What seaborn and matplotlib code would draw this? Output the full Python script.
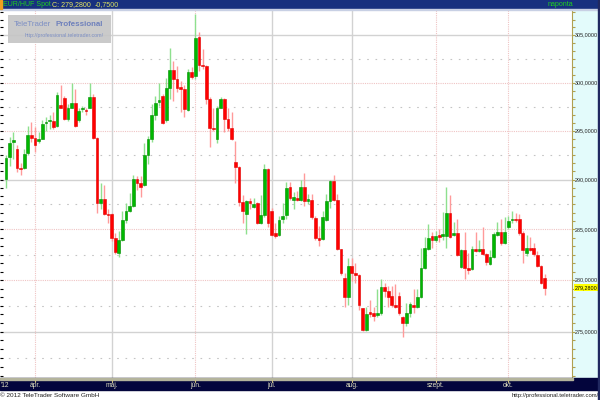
import numpy as np
import pandas as pd
import matplotlib
matplotlib.use('Agg')
import matplotlib.pyplot as plt
import seaborn as sns
from matplotlib.patches import Rectangle
from matplotlib.ticker import FixedLocator, NullFormatter
import matplotlib.transforms as mtransforms

# EUR/HUF daily candles, 2012-03-21 .. 2012-10-15
opens = [
    290.05, 292.3, 293.8, 293.1, 291.2, 291.2, 292.7, 294.6, 294.3, 293.9,
    294.2, 295.8, 296.0, 296.0, 295.5, 297.7, 298.4, 296.2, 297.4, 297.9,
    296.1, 297.2, 297.1, 297.4, 298.5, 294.3, 287.6, 288.1, 286.5, 286.5,
    284.2, 282.7, 284.0, 285.9, 286.8, 287.3, 290.1, 289.7, 289.5, 292.5,
    294.1, 296.6, 298.0, 298.6, 296.1, 299.4, 301.3, 300.4, 299.5, 299.3,
    297.1, 301.1, 300.7, 304.8, 301.9, 301.7, 298.3, 295.3, 294.2, 297.4,
    298.3, 296.2, 295.3, 291.8, 291.3, 287.7, 286.5, 287.8, 287.2, 287.6,
    285.6, 286.4, 291.1, 286.8, 284.7, 284.5, 286.0, 286.4, 289.3, 288.0,
    288.2, 288.0, 289.3, 287.9, 288.0, 286.1, 284.2, 284.1, 285.9, 287.8,
    289.9, 288.0, 283.1, 280.2, 278.4, 281.4, 280.7, 280.5, 277.3, 275.2,
    276.9, 276.8, 276.6, 276.8, 279.3, 278.9, 278.5, 277.6, 278.5, 276.4,
    275.8, 276.8, 277.6, 277.4, 278.4, 281.2, 283.1, 284.4, 284.0, 284.4,
    284.4, 284.4, 286.6, 284.5, 284.7, 281.3, 283.0, 281.2, 281.1, 283.1,
    282.9, 283.1, 282.6, 281.6, 282.3, 284.5, 284.8, 283.7, 285.2, 285.9,
    286.0, 286.0, 284.7, 282.7, 283.2, 283.2, 282.5, 281.4, 280.2,
]
highs = [
    292.5, 294.35, 294.9, 293.5, 291.7, 293.1, 295.5, 295.9, 295.4, 294.9,
    296.1, 296.4, 296.6, 296.9, 299.0, 299.7, 298.6, 297.8, 300.0, 299.3,
    297.3, 297.6, 297.4, 300.0, 298.8, 294.4, 289.7, 289.5, 287.0, 286.6,
    284.7, 284.9, 286.8, 287.6, 288.7, 290.5, 290.4, 290.4, 293.7, 294.5,
    297.8, 298.6, 300.0, 298.8, 300.5, 303.6, 302.3, 301.7, 300.2, 299.7,
    301.4, 301.6, 307.3, 305.3, 303.5, 301.8, 298.5, 297.3, 297.6, 298.5,
    298.4, 297.3, 296.9, 293.9, 291.4, 288.5, 288.0, 288.2, 288.2, 287.7,
    288.5, 291.6, 291.2, 287.1, 285.6, 286.3, 287.6, 289.8, 289.8, 288.8,
    288.9, 290.0, 290.7, 288.6, 288.6, 286.3, 285.3, 286.8, 288.6, 290.0,
    290.5, 288.6, 283.1, 280.7, 282.2, 282.2, 281.7, 280.6, 277.3, 277.4,
    278.1, 277.4, 279.1, 280.1, 279.7, 279.4, 279.4, 279.6, 278.8, 276.5,
    277.8, 277.9, 279.1, 279.1, 283.2, 284.3, 285.5, 284.8, 284.9, 285.0,
    286.7, 289.3, 288.5, 285.7, 286.0, 283.1, 284.8, 282.7, 283.4, 284.8,
    284.0, 285.2, 282.7, 283.0, 284.8, 285.7, 286.0, 286.2, 286.3, 286.8,
    286.6, 286.5, 284.9, 284.5, 284.3, 283.7, 282.9, 281.5, 280.6,
]
lows = [
    289.2, 291.4, 292.1, 290.8, 290.5, 291.1, 292.5, 293.8, 292.8, 293.7,
    294.1, 295.0, 295.2, 295.2, 295.4, 297.3, 296.1, 296.0, 297.3, 295.4,
    295.9, 296.9, 296.6, 297.3, 294.2, 286.6, 287.0, 286.4, 285.6, 283.9,
    282.6, 282.3, 283.9, 285.6, 286.7, 287.2, 289.0, 288.3, 289.4, 291.6,
    293.8, 296.1, 297.6, 295.7, 295.9, 298.3, 298.1, 299.0, 296.9, 296.4,
    297.0, 300.4, 300.4, 301.2, 301.4, 297.8, 293.3, 295.0, 293.7, 297.3,
    294.9, 295.0, 294.0, 289.7, 287.3, 285.6, 284.6, 287.0, 287.1, 285.5,
    285.5, 286.2, 285.2, 284.4, 284.2, 284.4, 285.6, 286.0, 288.0, 287.0,
    287.8, 287.8, 287.3, 287.5, 286.0, 284.0, 283.4, 284.0, 285.8, 287.1,
    287.8, 283.0, 280.5, 277.4, 277.6, 279.9, 279.7, 277.1, 275.1, 275.1,
    276.4, 276.0, 276.4, 276.6, 278.4, 277.4, 277.4, 277.3, 276.6, 274.5,
    275.6, 276.4, 276.8, 277.3, 278.3, 281.1, 283.0, 283.2, 283.8, 283.8,
    284.0, 283.2, 284.2, 284.4, 282.4, 281.2, 280.1, 280.6, 281.0, 282.8,
    282.8, 282.5, 281.5, 281.5, 282.2, 284.4, 283.5, 283.6, 285.0, 285.6,
    285.7, 284.5, 281.7, 282.4, 282.9, 282.4, 281.3, 279.6, 278.6,
]
closes = [
    292.2, 293.7, 294.0, 291.2, 291.1, 292.6, 294.6, 294.3, 293.5, 294.2,
    295.7, 295.95, 296.15, 295.4, 298.7, 297.4, 296.2, 297.3, 297.9, 295.5,
    297.0, 297.3, 297.0, 298.5, 294.3, 287.6, 288.1, 286.5, 286.45, 284.2,
    282.8, 284.0, 285.9, 286.8, 287.3, 290.1, 289.7, 289.3, 292.5, 294.1,
    296.6, 297.9, 298.2, 295.8, 299.4, 301.3, 300.4, 299.4, 299.3, 297.2,
    301.1, 300.6, 304.7, 301.9, 301.7, 298.3, 295.3, 295.2, 297.4, 298.3,
    296.2, 295.3, 294.1, 291.3, 287.7, 286.8, 287.8, 287.6, 287.5, 285.6,
    286.4, 291.1, 285.6, 284.5, 284.4, 285.9, 286.3, 289.2, 288.2, 288.3,
    288.0, 289.3, 287.8, 288.0, 286.2, 284.2, 284.0, 286.2, 287.8, 289.9,
    288.0, 283.1, 280.7, 278.4, 281.4, 280.7, 280.5, 277.6, 275.2, 276.7,
    276.7, 276.5, 276.8, 279.3, 278.9, 278.4, 277.6, 277.4, 276.8, 275.8,
    276.8, 277.7, 277.4, 278.4, 281.2, 283.2, 284.2, 284.0, 284.4, 284.3,
    284.5, 286.6, 284.3, 284.6, 282.5, 283.0, 281.2, 281.0, 283.1, 282.9,
    283.1, 282.6, 281.8, 282.3, 284.6, 284.8, 283.7, 284.8, 285.8, 286.0,
    285.9, 284.7, 283.0, 283.2, 283.0, 282.6, 281.4, 279.7, 279.28,
]

month_labels = {4: 'ápr.', 5: 'máj.', 6: 'jún.', 7: 'júl.', 8: 'aug.', 9: 'szept.', 10: 'okt.'}
solid_months = [5, 7, 8]
price_ticks = [275, 280, 285, 290, 295, 300, 305]
solid_levels = [275, 290, 305]

df = pd.DataFrame({'date': pd.bdate_range('2012-03-21', periods=len(closes)),
                   'open': opens, 'high': highs, 'low': lows, 'close': closes})
df['i'] = np.arange(len(df))
df['up'] = df['close'] >= df['open']

sns.set_style('white')
plt.rcParams['font.family'] = ['Liberation Sans', 'DejaVu Sans']

W, H = 600, 400
def fx(x): return x / W
def fy(y): return 1 - y / H

fig = plt.figure(figsize=(6, 4), dpi=100)
fig.patch.set_facecolor('white')

ax = fig.add_axes([0, fy(378), fx(572), (378 - 10) / H])
ax.set_facecolor('white')
ax.set_yscale('log')
ax.set_ylim(270.6, 307.7)
ax.set_xlim(-1.65, 155.5)

# grid
for v in price_ticks:
    if v in solid_levels:
        ax.axhline(v, color='#d2d2d2', lw=1, zorder=0)
    else:
        ax.axhline(v, color='#efc4c4', lw=0.8, ls=(0, (1, 1)), zorder=0)
for v in np.arange(272.5, 306, 5):
    ax.axhline(v, color='#c4c4c4', lw=0.8, ls=(0, (1.5, 6)), zorder=0)

month_start = df.groupby(df['date'].dt.month)['i'].min()
for m, lab in month_labels.items():
    pos = month_start[m]
    if m in solid_months:
        ax.axvline(pos, color='#d2d2d2', lw=1, zorder=0)
    else:
        ax.axvline(pos, color='#efc4c4', lw=0.8, ls=(0, (1, 1)), zorder=0)

# candles
wick_col = np.where(df['up'], '#8ee08e', '#ff9a9a')
body_col = np.where(df['up'], '#00b800', '#ff0000')
edge_col = np.where(df['up'], '#008a00', '#e00000')
ax.vlines(df['i'], df['low'], df['high'], colors=wick_col, lw=1, zorder=2)
body_lo = df[['open', 'close']].min(axis=1)
body_h = (df['close'] - df['open']).abs().clip(lower=0.12)
ax.bar(df['i'], body_h, bottom=body_lo, width=0.75, color=body_col,
       edgecolor=edge_col, linewidth=0.4, zorder=3)

ax.yaxis.set_major_locator(FixedLocator(price_ticks))
ax.yaxis.set_minor_locator(FixedLocator(np.arange(270, 308, 5 / 6)))
ax.yaxis.set_major_formatter(NullFormatter())
ax.yaxis.set_minor_formatter(NullFormatter())
ax.set_xticks([])
ax.tick_params(axis='y', which='both', left=True, right=False, direction='in',
               length=2.5, width=0.8, color='black', labelleft=False)
sns.despine(ax=ax, left=True, right=True, top=True, bottom=True)

# right price panel
pax = fig.add_axes([fx(572), fy(378), fx(26), (378 - 10) / H], sharey=ax)
pax.set_facecolor('#e3fbfb')
pax.set_xlim(0, 1)
pax.set_xticks([])
pax.tick_params(axis='y', which='both', left=True, right=False, direction='in',
                length=2, width=0.8, color='#b0a050', labelleft=False)
for s in ['top', 'right', 'bottom']:
    pax.spines[s].set_visible(False)
pax.spines['left'].set_color('#b0a050')
pax.spines['left'].set_linestyle((0, (2, 1)))
for v in price_ticks:
    pax.text(0.1, v, f'{v:.4f}'.replace('.', ','), fontsize=3.9, color='#202020',
             va='center', ha='left', clip_on=False)
last = closes[-1]
pax.text(0.1, last, f'{last:.4f}'.replace('.', ','), fontsize=3.9, color='black',
         va='center', ha='left', bbox=dict(boxstyle='square,pad=0.2', fc='#ffff00', ec='none'))

# top banner
fig.add_artist(Rectangle((0, fy(9)), 1, 9 / H, transform=fig.transFigure,
                         color='#17307f', zorder=5))
fig.add_artist(Rectangle((0, fy(10)), 1, 1 / H, transform=fig.transFigure,
                         color='#c8d0e4', zorder=5))
fig.add_artist(Rectangle((0, fy(9)), 2 / W, 9 / H, transform=fig.transFigure,
                         color='#f0a020', zorder=6))
fig.text(fx(3), fy(4.8), 'EUR/HUF Spot', fontsize=5, color='#20d020', va='center', zorder=7)
fig.text(fx(52), fy(4.8), 'C: 279,2800', fontsize=5.1, color='#e8e860', va='center', zorder=7)
fig.text(fx(95), fy(4.8), '-0,7500', fontsize=5.1, color='#d8e060', va='center', zorder=7)
fig.text(fx(560), fy(4.8), 'naponta', fontsize=5.1, color='#20d020', va='center', ha='center', zorder=7)

# right border
fig.add_artist(Rectangle((fx(598), 0), 2 / W, 1, transform=fig.transFigure,
                         color='#202860', zorder=6))

# bottom time bar
fig.add_artist(Rectangle((0, fy(390)), 1, 12 / H, transform=fig.transFigure,
                         color='#03053c', zorder=5))
fig.add_artist(Rectangle((0, fy(380)), fx(573), 2 / H, transform=fig.transFigure,
                         color='#b4b49c', zorder=6))
trans = mtransforms.blended_transform_factory(ax.transData, fig.transFigure)
fig.text(fx(1), fy(385.5), "'12", fontsize=4.8, color='#e0e0c0', va='center', ha='left', zorder=7)
for m, lab in month_labels.items():
    pos = month_start[m]
    fig.text(pos, fy(385.5), lab, transform=trans, fontsize=4.8, color='#e0e0c0',
             va='center', ha='center', zorder=7)
    fig.add_artist(plt.Line2D([pos, pos], [fy(380), fy(381.5)], transform=trans,
                              color='#d0c080', lw=0.8, zorder=7))

# footer
fig.text(fx(0), fy(395.5), '© 2012 TeleTrader Software GmbH', fontsize=4.6, color='#202020',
         va='center', ha='left')
fig.text(fx(599), fy(395.5), 'http://professional.teletrader.com/', fontsize=4.2, color='#202020',
         va='center', ha='right')

# watermark
fig.add_artist(Rectangle((fx(8), fy(43)), fx(103), 28 / H, transform=fig.transFigure,
                         facecolor='#c6c6c6', edgecolor='none', alpha=0.92, zorder=8))
fig.text(fx(14), fy(24), 'TeleTrader', fontsize=5.7, color='#7d8fc4', va='center', ha='left', zorder=9)
fig.text(fx(56), fy(24), 'Professional', fontsize=5.7, color='#6e80bc', weight='bold',
         va='center', ha='left', zorder=9)
fig.text(fx(25), fy(35), 'http://professional.teletrader.com/', fontsize=3.8, color='#7d8fc4',
         va='center', ha='left', zorder=9)

fig.savefig('out.png', dpi=100)
